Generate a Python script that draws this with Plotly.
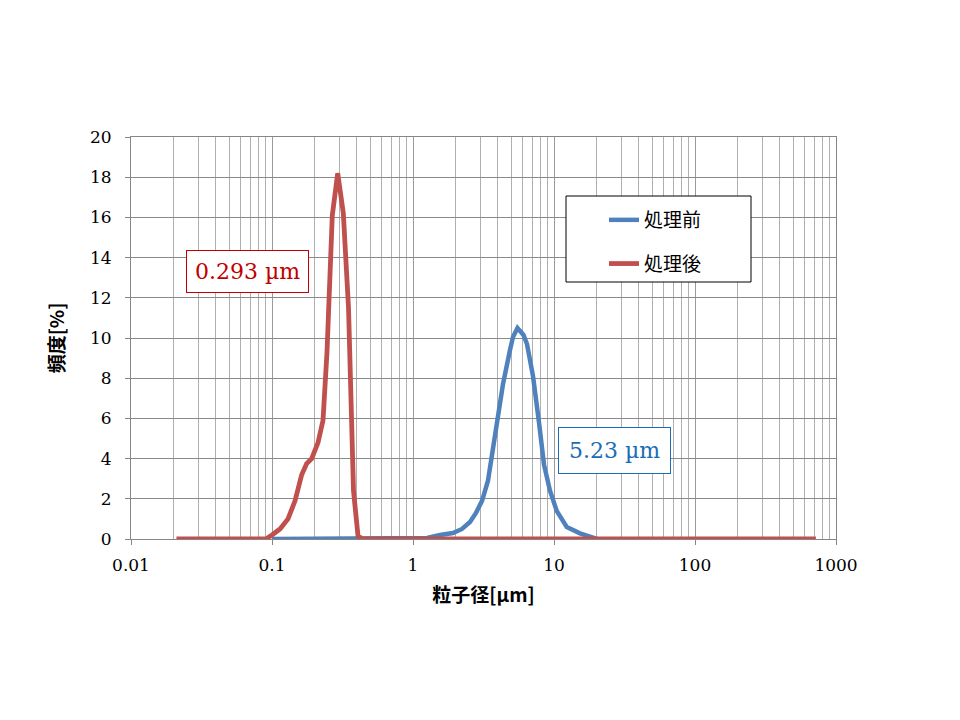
import plotly.graph_objects as go

# 粒子径 [µm] and 頻度 [%]
before_size = [0.100, 1.177, 1.257, 1.555, 1.921, 2.226, 2.537, 2.798, 3.087, 3.403,
               3.694, 3.942, 4.347, 4.874, 5.119, 5.509, 6.076, 6.434, 7.098, 7.828,
               8.493, 9.368, 10.45, 12.31, 15.29, 18.00, 20.18]
before_freq = [0.0, 0.0, 0.05, 0.2, 0.3, 0.5, 0.85, 1.3, 1.9, 2.9,
               4.4, 5.6, 7.7, 9.4, 10.05, 10.5, 10.15, 9.7, 8.1, 5.8,
               3.7, 2.4, 1.4, 0.6, 0.28, 0.12, 0.0]

after_size = [0.021, 0.0907, 0.100, 0.1140, 0.1299, 0.1456, 0.1624, 0.1762, 0.1912, 0.2120,
              0.2300, 0.2455, 0.2677, 0.2924, 0.3206, 0.3489, 0.3785, 0.4074, 0.4415, 720.0]
after_freq = [0.0, 0.0, 0.2, 0.5, 1.0, 1.9, 3.2, 3.75, 4.0, 4.8,
              5.9, 9.3, 16.1, 18.2, 16.2, 11.5, 2.4, 0.15, 0.0, 0.0]

series_names = ["処理前", "処理後"]
series_colors = ["#4F81BD", "#C0504D"]
label_before = "5.23 µm"
label_after = "0.293 µm"

y_ticks = list(range(0, 21, 2))
x_ticks = [0.01, 0.1, 1, 10, 100, 1000]
x_tick_text = ["0.01", "0.1", "1", "10", "100", "1000"]

fig = go.Figure()
fig.add_trace(go.Scatter(x=before_size, y=before_freq, mode="lines", name=series_names[0],
                         legendgroup="a", line=dict(color=series_colors[0], width=4.5)))
fig.add_trace(go.Scatter(x=after_size, y=after_freq, mode="lines", name=series_names[1],
                         legendgroup="b", line=dict(color=series_colors[1], width=4.8)))

W, H = 960, 720
L, R, T, B = 131, 124, 137, 181
pw, ph = W - L - R, H - T - B

def px(x):
    return (x - L) / pw

def py(y):
    return (H - B - y) / ph

# legend box
fig.add_shape(type="rect", xref="paper", yref="paper",
              x0=px(566), x1=px(751), y0=py(282), y1=py(196),
              fillcolor="white", line=dict(color="black", width=1), layer="above")

serif = "DejaVu Serif, Liberation Serif, serif"
gothic = "Noto Sans CJK JP, sans-serif"

fig.add_annotation(xref="paper", yref="paper", x=px(247.5), y=py(271), text=label_after,
                   xanchor="center", yanchor="middle",
                   showarrow=False, font=dict(family=serif, size=22, color="#C00000"),
                   bgcolor="white", bordercolor="#C00000", borderwidth=1, borderpad=8)
fig.add_annotation(xref="paper", yref="paper", x=px(614), y=py(450), text=label_before,
                   xanchor="center", yanchor="middle",
                   showarrow=False, font=dict(family=serif, size=22, color="#1A6DB5"),
                   bgcolor="white", bordercolor="#1A6DB5", borderwidth=1, borderpad=10)

fig.update_layout(
    width=W, height=H,
    margin=dict(l=L, r=R, t=T, b=B),
    paper_bgcolor="white", plot_bgcolor="white",
    font=dict(family=serif, size=17, color="black"),
    showlegend=True,
    legend=dict(x=px(604), y=py(201), xanchor="left", yanchor="top",
                bgcolor="rgba(0,0,0,0)", borderwidth=0,
                font=dict(family=gothic, size=19, color="black"),
                tracegroupgap=16, itemwidth=30),
    xaxis=dict(type="log", range=[-2, 3], tickvals=x_ticks, ticktext=x_tick_text,
               showgrid=True, gridcolor="#9A9A9A", gridwidth=1,
               minor=dict(dtick="D1", showgrid=True, gridcolor="#B0B0B0", gridwidth=1),
               showline=True, linecolor="#868686", linewidth=1, mirror=True,
               ticks="outside", ticklen=5, tickcolor="#868686", ticklabelstandoff=6,
               tickfont=dict(family=serif, size=17),
               title=dict(text="<b>粒子径[µm]</b>", font=dict(family=gothic, size=19), standoff=14),
               zeroline=False),
    yaxis=dict(range=[0, 20], tickvals=y_ticks,
               showgrid=True, gridcolor="#8A8A8A", gridwidth=1,
               showline=True, linecolor="#868686", linewidth=1, mirror=True,
               ticks="outside", ticklen=5, tickcolor="#868686", ticklabelstandoff=10,
               tickfont=dict(family=serif, size=17),
               title=dict(text="<b>頻度[%]</b>", font=dict(family=gothic, size=19), standoff=20),
               zeroline=False),
)

fig.write_html("out.html")
